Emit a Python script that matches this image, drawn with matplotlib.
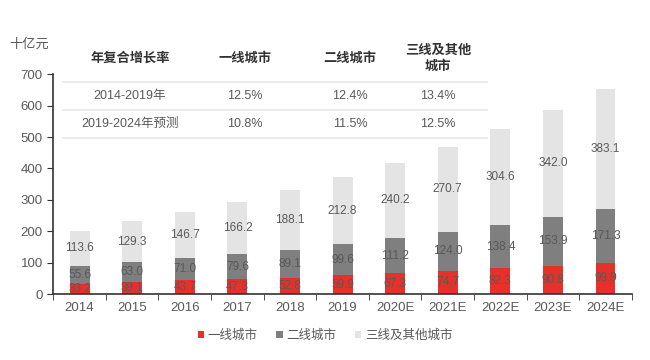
import matplotlib
matplotlib.use('Agg')
import matplotlib.pyplot as plt
import numpy as np

plt.rcParams['font.family'] = ['Liberation Sans', 'Noto Sans CJK SC', 'DejaVu Sans']

years = ['2014', '2015', '2016', '2017', '2018', '2019', '2020E', '2021E', '2022E', '2023E', '2024E']
tier1 = [33.2, 39.1, 43.7, 47.3, 52.8, 59.9, 67.3, 74.7, 82.3, 90.8, 99.9]
tier2 = [55.6, 63.0, 71.0, 79.6, 89.1, 99.6, 111.2, 124.0, 138.4, 153.9, 171.3]
tier3 = [113.6, 129.3, 146.7, 166.2, 188.1, 212.8, 240.2, 270.7, 304.6, 342.0, 383.1]
series_names = ['一线城市', '二线城市', '三线及其他城市']

table_header = ['年复合增长率', '一线城市', '二线城市', '三线及其他\n城市']
table_rows = [['2014-2019年', '12.5%', '12.4%', '13.4%'],
              ['2019-2024年预测', '10.8%', '11.5%', '12.5%']]

colors = ['#E8302A', '#7F7F7F', '#E4E4E4']
txt = '#595959'

fig = plt.figure(figsize=(6.5, 3.6), dpi=100)
ax = fig.add_axes([0.082, 0.183, 0.89, 0.611])

x = np.arange(len(years))
w = 0.38
bottom = np.zeros(len(years))
for vals, c, name in zip([tier1, tier2, tier3], colors, series_names):
    vals = np.array(vals)
    ax.bar(x, vals, w, bottom=bottom, color=c, label=name, zorder=2)
    for xi, b, v in zip(x, bottom, vals):
        ax.text(xi, b + v / 2, f'{v:.1f}', ha='center', va='center',
                fontsize=8.5, color=txt, zorder=3)
    bottom = bottom + vals

ax.set_xlim(-0.5, len(years) - 0.5)
ax.set_ylim(0, 700)
ax.set_yticks(range(0, 701, 100))
ax.set_xticks(x)
ax.set_xticklabels(years)
ax.set_xticks(np.arange(-0.5, len(years), 1), minor=True)
ax.tick_params(axis='x', which='major', length=0, labelsize=9.5, labelcolor=txt, pad=6)
ax.tick_params(axis='x', which='minor', length=4, direction='out', color='#333333')
ax.tick_params(axis='y', length=4, labelsize=9.5, labelcolor=txt, color='#333333')
for s in ['top', 'right']:
    ax.spines[s].set_visible(False)
for s in ['left', 'bottom']:
    ax.spines[s].set_color('#333333')
    ax.spines[s].set_linewidth(1.2)

fig.text(0.045, 0.875, '十亿元', fontsize=9.5, color=txt, ha='center', va='center')

# CAGR table at top
col_x = [130, 245, 350, 438]
for cx, h in zip(col_x, table_header):
    y = 58 if '\n' not in h else 59
    fig.text(cx / 650, 1 - y / 360, h, fontsize=9.5, fontweight='bold', color='#333333',
             ha='center', va='center', linespacing=1.3)
for ly in [82, 110, 138]:
    fig.add_artist(plt.Line2D([63 / 650, 487 / 650], [1 - ly / 360, 1 - ly / 360],
                              color='#E6E6E6', lw=1.2))
for ry, row in zip([96, 124], table_rows):
    for cx, v in zip(col_x, row):
        fig.text(cx / 650, 1 - ry / 360, v, fontsize=9, color=txt, ha='center', va='center')

handles, labels = ax.get_legend_handles_labels()
fig.legend(handles, labels, loc='center', bbox_to_anchor=(0.5, 1 - 336 / 360), ncol=3,
           frameon=False, fontsize=9, handlelength=0.5, handleheight=0.5,
           handletextpad=0.3, columnspacing=1.5, labelcolor=txt)

fig.savefig('out.png', dpi=100)
